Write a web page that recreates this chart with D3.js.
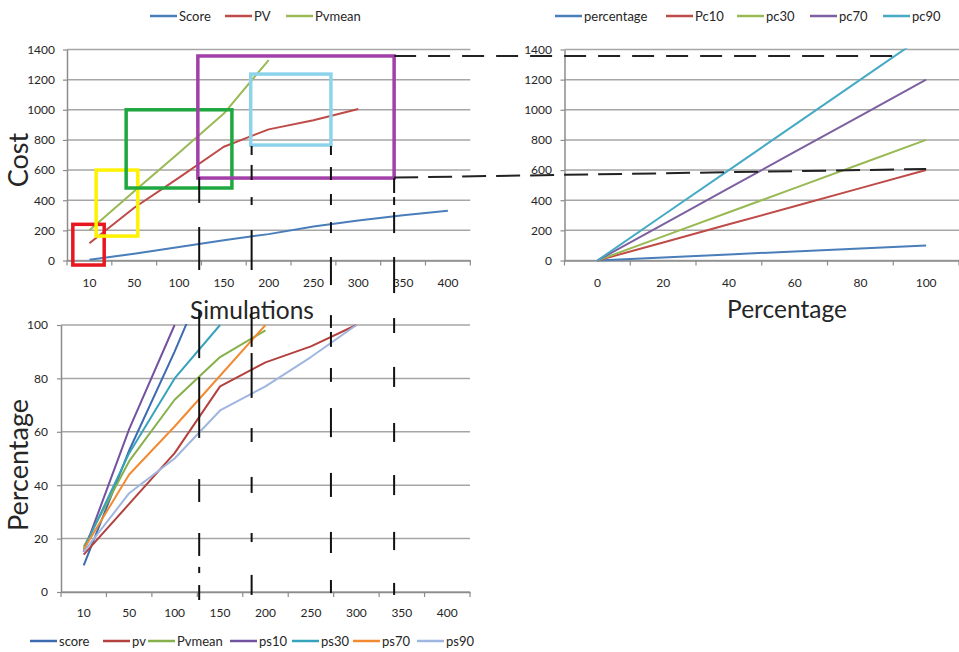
<!DOCTYPE html>
<html>
<head>
<meta charset="utf-8">
<script src="https://cdn.jsdelivr.net/npm/d3@7"></script>
<style>
  body { margin: 0; background: #fff; }
  svg { display: block; }
  text { font-family: Lato, 'Open Sans', sans-serif; fill: #262626; }
</style>
</head>
<body>
<div id="chart"></div>
<script>
// categories / ticks
const simCats = ['10', '50', '100', '150', '200', '250', '300', '350', '400'];
const pctCats = ['0', '20', '40', '60', '80', '100'];
const costTicks = [0, 200, 400, 600, 800, 1000, 1200, 1400];
const pctTicks = [0, 20, 40, 60, 80, 100];

// top left: cost vs simulations
const tlScore = [5, 45, 90, 135, 175, 225, 265, 300, 330];
const tlPV = [115, 350, 550, 755, 870, 930, 1005];
const tlPvmean = [200, 460, 715, 975, 1330];

// top right: cost vs percentage
const trPercentage = [0, 20, 40, 60, 80, 100];
const trPc10 = [0, 120, 240, 360, 480, 600];
const trPc30 = [0, 160, 320, 480, 640, 800];
const trPc70 = [0, 240, 480, 720, 960, 1200];
const trPc90 = [0, 300, 600, 900, 1200, 1500];

// bottom: percentage vs simulations
const bScore = [10, 53, 90, 130];
const bPv = [14, 33, 52, 77, 86, 92, 100];
const bPvmean = [17, 49, 72, 88, 98];
const bPs10 = [15, 61, 100];
const bPs30 = [16, 52, 80, 100];
const bPs70 = [16, 44, 62, 81, 100];
const bPs90 = [15, 37, 50, 68, 77, 88, 100];

// annotation boxes on the top-left chart (category index, cost)
const annBoxes = [
  { color: '#E8171F', i0: -0.37, i1: 0.33, c0: -30, c1: 240 },
  { color: '#FFF200', i0: 0.15, i1: 1.08, c0: 162, c1: 600 },
  { color: '#1FA83F', i0: 0.82, i1: 3.18, c0: 481, c1: 1000 },
  { color: '#A23FA8', i0: 2.42, i1: 6.80, c0: 547, c1: 1357 },
  { color: '#8ED3EC', i0: 3.60, i1: 5.39, c0: 766, c1: 1237 },
];

// vertical black guides: index, segments in cost (top) and percent (bottom)
const guideIdx = [2.45, 3.62, 5.39, 6.80];
const guideTop = [
  [[554, 382], [222, -63]],
  [[760, 700], [634, 534], [421, 368], [202, -63]],
  [[760, 700], [620, 534], [441, 368], [255, 182], [23, -163]],
  [[547, 448], [421, 368], [322, 182], [23, -216]],
];
const guideBottom = [
  [[105.6, 87.6], [80.5, 57.7], [42.3, 33.7], [22.1, 13.5], [9.4, 7.1], [2.6, -3]],
  [[106.7, 91.8], [89.5, 72.7], [61.4, 56.2], [43.1, 37.1], [22.1, 18.7], [6.4, -1.1]],
  [[103.7, 98.9], [97.4, 91.8], [83.9, 78.7], [68.9, 58], [44.6, 35.6], [22.5, 14.6], [4.5, -0.4]],
  [[102.6, 97], [84.3, 76.8], [63.3, 56.2], [43.8, 36.3], [22.5, 15.7], [3.4, -1.1]],
];

const W = 959, H = 652;
const svg = d3.select('#chart').append('svg').attr('width', W).attr('height', H);

let clipId = 0;
function panel(cfg) {
  const x = d3.scaleBand().domain(cfg.cats).range([cfg.left, cfg.right]);
  const y = d3.scaleLinear().domain([0, cfg.yMax]).range([cfg.bottom, cfg.top]);
  const g = svg.append('g');

  // gridlines
  g.selectAll('line.grid').data(cfg.ticks).join('line')
    .attr('x1', cfg.left).attr('x2', cfg.gridRight)
    .attr('y1', d => y(d)).attr('y2', d => y(d))
    .attr('stroke', '#a6a6a6').attr('stroke-width', 1.5);

  // y axis
  const ya = g.append('g').attr('transform', `translate(${cfg.left},0)`)
    .call(d3.axisLeft(y).tickValues(cfg.ticks).tickFormat(d3.format('d'))
      .tickSize(4).tickSizeOuter(0).tickPadding(cfg.yPad));
  ya.select('.domain').attr('stroke', '#8c8c8c').attr('stroke-width', 1.5);
  ya.selectAll('.tick line').attr('stroke', '#8c8c8c').attr('stroke-width', 1.2);
  ya.selectAll('text').style('font-size', '12px').attr('fill', '#262626');

  // x axis
  const xa = g.append('g').attr('transform', `translate(0,${cfg.bottom})`)
    .call(d3.axisBottom(x).tickSize(0).tickSizeOuter(0).tickPadding(cfg.xPad));
  xa.select('.domain').attr('stroke', '#8c8c8c').attr('stroke-width', 1.5);
  xa.selectAll('text').style('font-size', '12px').attr('fill', '#262626');
  const bounds = cfg.cats.map(c => x(c)).concat([x.range()[1]]);
  g.selectAll('line.xt').data(bounds).join('line')
    .attr('x1', d => d).attr('x2', d => d)
    .attr('y1', cfg.bottom).attr('y2', cfg.bottom + 5)
    .attr('stroke', '#8c8c8c').attr('stroke-width', 1.2);

  // series, clipped to plot area
  const id = 'clip' + (clipId++);
  svg.append('clipPath').attr('id', id).append('rect')
    .attr('x', cfg.left).attr('y', cfg.top - 1)
    .attr('width', cfg.gridRight - cfg.left).attr('height', cfg.bottom - cfg.top + 2);
  const line = d3.line()
    .x((d, i) => x(cfg.cats[i]) + x.bandwidth() / 2)
    .y(d => y(d));
  g.append('g').attr('clip-path', `url(#${id})`)
    .selectAll('path').data(cfg.series).join('path')
    .attr('d', s => line(s.values))
    .attr('fill', 'none').attr('stroke', s => s.color)
    .attr('stroke-width', 2).attr('stroke-linejoin', 'round');

  // legend
  const lg = g.append('g');
  cfg.series.forEach((s, i) => {
    const lx = cfg.legendX[i];
    lg.append('line').attr('x1', lx).attr('x2', lx + 27)
      .attr('y1', cfg.legendY).attr('y2', cfg.legendY)
      .attr('stroke', s.color).attr('stroke-width', 2.5);
    lg.append('text').attr('x', lx + 29).attr('y', cfg.legendY + 4.5)
      .style('font-size', '13px').text(s.name);
  });

  return { x, y };
}

const tl = panel({
  cats: simCats, left: 67, right: 470.3, gridRight: 470.3, top: 49.5, bottom: 260.5,
  yMax: 1400, ticks: costTicks, yPad: 8, xPad: 18,
  legendY: 16, legendX: [150, 225, 286],
  series: [
    { name: 'Score', values: tlScore, color: '#4A7EBB' },
    { name: 'PV', values: tlPV, color: '#BE4B48' },
    { name: 'Pvmean', values: tlPvmean, color: '#98B954' },
  ],
});

const tr = panel({
  cats: pctCats, left: 564.5, right: 959, gridRight: 959, top: 49.5, bottom: 260.5,
  yMax: 1400, ticks: costTicks, yPad: 8.5, xPad: 18,
  legendY: 16, legendX: [555, 666, 737, 810, 883],
  series: [
    { name: 'percentage', values: trPercentage, color: '#4A7EBB' },
    { name: 'Pc10', values: trPc10, color: '#BE4B48' },
    { name: 'pc30', values: trPc30, color: '#98B954' },
    { name: 'pc70', values: trPc70, color: '#7D60A0' },
    { name: 'pc90', values: trPc90, color: '#46AAC5' },
  ],
});

const bl = panel({
  cats: simCats, left: 61, right: 470, gridRight: 470, top: 325, bottom: 592,
  yMax: 100, ticks: pctTicks, yPad: 9, xPad: 16.5,
  legendY: 641, legendX: [30, 103, 148, 230, 292, 353, 417],
  series: [
    { name: 'score', values: bScore, color: '#3D6BB0' },
    { name: 'pv', values: bPv, color: '#B3413E' },
    { name: 'Pvmean', values: bPvmean, color: '#86B04A' },
    { name: 'ps10', values: bPs10, color: '#7352A0' },
    { name: 'ps30', values: bPs30, color: '#37A2BB' },
    { name: 'ps70', values: bPs70, color: '#F28A32' },
    { name: 'ps90', values: bPs90, color: '#9FB6E0' },
  ],
});

// axis titles
svg.append('text').attr('transform', 'translate(28,160) rotate(-90)')
  .attr('text-anchor', 'middle').style('font-size', '27px').text('Cost');
svg.append('text').attr('x', 252).attr('y', 319)
  .attr('text-anchor', 'middle').style('font-size', '24.5px').text('Simulations');
svg.append('text').attr('x', 787).attr('y', 318)
  .attr('text-anchor', 'middle').style('font-size', '24.5px').text('Percentage');
svg.append('text').attr('transform', 'translate(28,465) rotate(-90)')
  .attr('text-anchor', 'middle').style('font-size', '27px').text('Percentage');

// index -> pixel on the simulations axis
const idxX = i => tl.x(simCats[0]) + tl.x.bandwidth() / 2 + i * tl.x.bandwidth();
const pctX = d3.scaleLinear().domain([0, 100])
  .range([tr.x('0') + tr.x.bandwidth() / 2, tr.x('100') + tr.x.bandwidth() / 2]);

// boxes
const ann = svg.append('g');
ann.selectAll('rect').data(annBoxes).join('rect')
  .attr('x', d => idxX(d.i0)).attr('width', d => idxX(d.i1) - idxX(d.i0))
  .attr('y', d => tl.y(d.c1)).attr('height', d => tl.y(d.c0) - tl.y(d.c1))
  .attr('fill', 'none').attr('stroke', d => d.color).attr('stroke-width', 3.5);

// horizontal dashed links to the right chart
const purpleBox = annBoxes[3];
ann.append('line')
  .attr('x1', idxX(purpleBox.i1)).attr('y1', tl.y(purpleBox.c1))
  .attr('x2', pctX(91)).attr('y2', tr.y(purpleBox.c1))
  .attr('stroke', '#222').attr('stroke-width', 2).attr('stroke-dasharray', '22,12');
ann.append('line')
  .attr('x1', idxX(purpleBox.i1)).attr('y1', tl.y(550))
  .attr('x2', pctX(100)).attr('y2', tr.y(607))
  .attr('stroke', '#222').attr('stroke-width', 2).attr('stroke-dasharray', '24,10');

// vertical guides
guideIdx.forEach((gi, k) => {
  const px = idxX(gi);
  guideTop[k].forEach(s => {
    ann.append('line').attr('x1', px).attr('x2', px)
      .attr('y1', tl.y(s[0])).attr('y2', tl.y(s[1]))
      .attr('stroke', '#111').attr('stroke-width', 2);
  });
  guideBottom[k].forEach(s => {
    ann.append('line').attr('x1', px).attr('x2', px)
      .attr('y1', bl.y(s[0])).attr('y2', bl.y(s[1]))
      .attr('stroke', '#111').attr('stroke-width', 2);
  });
});
</script>
</body>
</html>
